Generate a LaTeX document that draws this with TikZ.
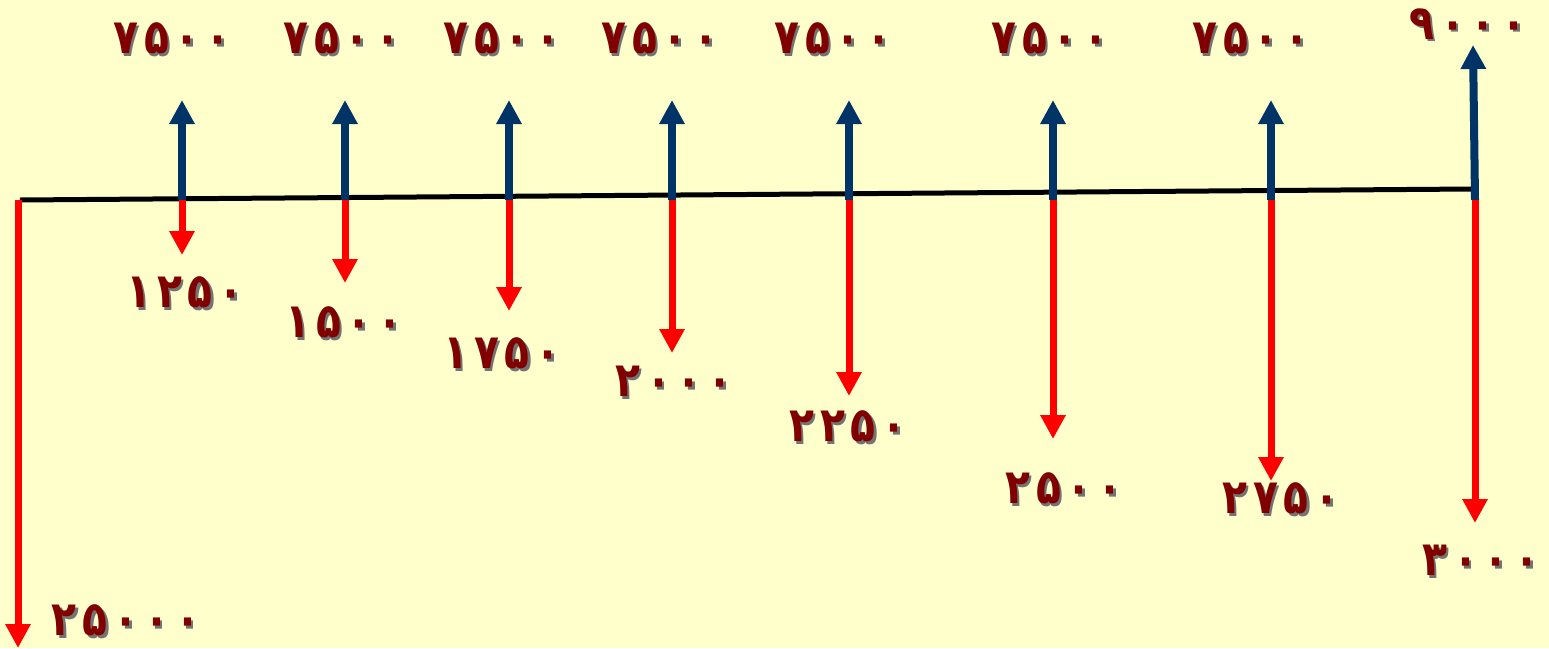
\documentclass[tikz,border=0pt]{standalone}
\usepackage{fontspec}
\newfontfamily\pfont[Script=Arabic,FakeStretch=0.85]{DejaVu Sans}
\usetikzlibrary{arrows.meta}
\definecolor{bg}{RGB}{255,255,204}
\definecolor{navyblue}{RGB}{0,51,102}
\definecolor{darkmaroon}{RGB}{128,0,0}
\newcommand\spd[1]{\spdA#1\relax}
\def\spdA#1{#1\spdB}
\def\spdB#1{\ifx\relax#1\else\hspace{6pt}#1\expandafter\spdB\fi}
\newcommand\shnum[1]{\makebox[0pt][l]{\hspace{2.5pt}\raisebox{-2.5pt}{\color{black!55}\spd{#1}}}\spd{#1}}
\tikzset{
  axisline/.style={line width=5pt, black},
  uparrow/.style={navyblue, line width=8pt, -{Triangle[width=24pt,length=24pt]}},
  downarrow/.style={red, line width=7pt, -{Triangle[width=24pt,length=24pt]}},
  lbl/.style={font=\pfont\bfseries\fontsize{48}{52}\selectfont, text=darkmaroon, inner sep=0pt}
}
\begin{document}
\begin{tikzpicture}[x=1pt,y=-1pt]
\useasboundingbox[fill=bg] (0,0) rectangle (1549,648);
% axis
\coordinate (axL) at (20,200);
\coordinate (axR) at (1472,189);
\draw[axisline] (axL) -- (axR);
% origins on the axis
\coordinate (o0) at (18,200);
\coordinate (o1) at (182,200);
\coordinate (o2) at (345,200);
\coordinate (o3) at (509,200);
\coordinate (o4) at (672,200);
\coordinate (o5) at (849,200);
\coordinate (o6) at (1053,200);
\coordinate (o7) at (1271,200);
\coordinate (o8) at (1475,200);
% up tips
\coordinate (u1) at (182,100);
\coordinate (u2) at (345,100);
\coordinate (u3) at (509,100);
\coordinate (u4) at (672,100);
\coordinate (u5) at (849,100);
\coordinate (u6) at (1053,100);
\coordinate (u7) at (1271,100);
\coordinate (u8) at (1473,45);
% down tips
\coordinate (d0) at (18,648);
\coordinate (d1) at (182,255);
\coordinate (d2) at (345,283);
\coordinate (d3) at (509,311);
\coordinate (d4) at (672,353);
\coordinate (d5) at (849,396);
\coordinate (d6) at (1053,439);
\coordinate (d7) at (1271,481);
\coordinate (d8) at (1475,523);
% arrows
\foreach \i in {1,...,8} \draw[uparrow] (o\i) -- (u\i);
\foreach \i in {0,...,8} \draw[downarrow] (o\i) -- (d\i);
% top labels
\node[lbl] (t1) at (172,40) {\shnum{۷۵۰۰}};
\node[lbl] (t2) at (342,40) {\shnum{۷۵۰۰}};
\node[lbl] (t3) at (502,40) {\shnum{۷۵۰۰}};
\node[lbl] (t4) at (660,40) {\shnum{۷۵۰۰}};
\node[lbl] (t5) at (833,40) {\shnum{۷۵۰۰}};
\node[lbl] (t6) at (1050,40) {\shnum{۷۵۰۰}};
\node[lbl] (t7) at (1251,40) {\shnum{۷۵۰۰}};
\node[lbl] (t8) at (1468,25) {\shnum{۹۰۰۰}};
% bottom labels
\node[lbl] (b0) at (126,622) {\shnum{۲۵۰۰۰}};
\node[lbl] (b1) at (185,294) {\shnum{۱۲۵۰}};
\node[lbl] (b2) at (344,324) {\shnum{۱۵۰۰}};
\node[lbl] (b3) at (502,355) {\shnum{۱۷۵۰}};
\node[lbl] (b4) at (674,383) {\shnum{۲۰۰۰}};
\node[lbl] (b5) at (848,428) {\shnum{۲۲۵۰}};
\node[lbl] (b6) at (1064,490) {\shnum{۲۵۰۰}};
\node[lbl] (b7) at (1281,500) {\shnum{۲۷۵۰}};
\node[lbl] (b8) at (1481,562) {\shnum{۳۰۰۰}};
\end{tikzpicture}
\end{document}
